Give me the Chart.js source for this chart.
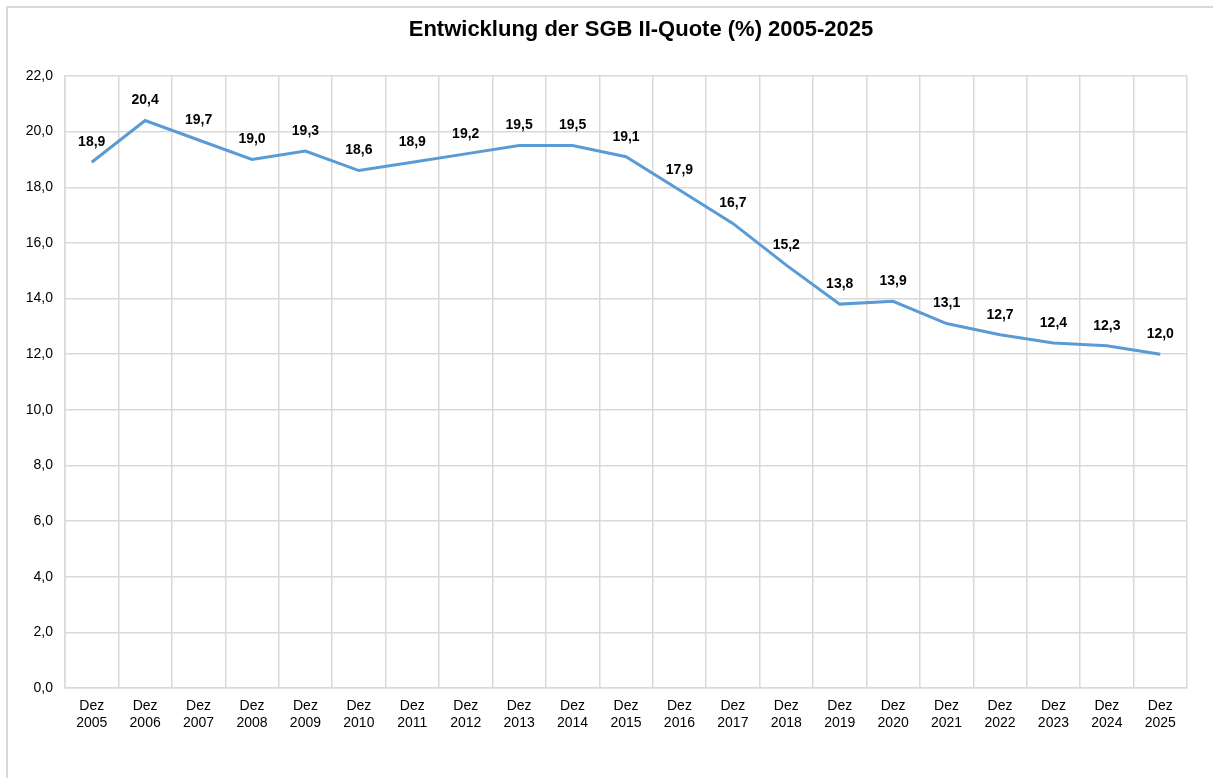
<!DOCTYPE html>
<html>
<head>
<meta charset="utf-8">
<script src="https://cdn.jsdelivr.net/npm/chart.js@4"></script>
<style>
  body { margin: 0; overflow: hidden; background: #fff; }
  #frame { position: absolute; left: 6px; top: 6px; width: 1300px; height: 900px; border: 2px solid #d9d9d9; }
  #box { position: absolute; left: 8px; top: 8px; width: 1266px; height: 770px; }
</style>
</head>
<body>
<div id="frame"></div>
<div id="box"><canvas id="quote"></canvas></div>
<script>
const years = ["2005", "2006", "2007", "2008", "2009", "2010", "2011", "2012", "2013", "2014",
  "2015", "2016", "2017", "2018", "2019", "2020", "2021", "2022", "2023", "2024", "2025"];
const quote = [18.9, 20.4, 19.7, 19.0, 19.3, 18.6, 18.9, 19.2, 19.5, 19.5,
  19.1, 17.9, 16.7, 15.2, 13.8, 13.9, 13.1, 12.7, 12.4, 12.3, 12.0];
const yTicks = [0, 2, 4, 6, 8, 10, 12, 14, 16, 18, 20, 22];

const fmt = v => v.toFixed(1).replace(".", ",");
const gridColor = "#d9d9d9";
const font = "'Liberation Sans', Arial, sans-serif";

// data labels above each point
const valueLabels = {
  id: "valueLabels",
  afterDatasetsDraw(chart) {
    const ctx = chart.ctx;
    const meta = chart.getDatasetMeta(0);
    ctx.save();
    ctx.font = "bold 14px " + font;
    ctx.fillStyle = "#000";
    ctx.textAlign = "center";
    ctx.textBaseline = "middle";
    meta.data.forEach((pt, i) => {
      ctx.fillText(fmt(quote[i]), pt.x, pt.y - 20);
    });
    ctx.restore();
  }
};

new Chart(document.getElementById("quote").getContext("2d"), {
  type: "line",
  data: {
    labels: years.map(y => ["Dez", y]),
    datasets: [{
      data: quote,
      borderColor: "#5b9bd5",
      borderWidth: 3,
      pointRadius: 0,
      tension: 0,
      fill: false
    }]
  },
  options: {
    responsive: true,
    maintainAspectRatio: false,
    animation: false,
    layout: { padding: 0 },
    plugins: {
      legend: { display: false },
      tooltip: { enabled: false },
      title: {
        display: true,
        text: "Entwicklung der SGB II-Quote (%) 2005-2025",
        color: "#000",
        font: { family: font, size: 22, weight: "bold", lineHeight: 1.2 },
        padding: { top: 8.5, bottom: 33.1 }
      }
    },
    scales: {
      x: {
        offset: true,
        grid: { color: gridColor, lineWidth: 1.5, offset: true, drawTicks: false },
        border: { color: gridColor, width: 1.5 },
        ticks: { color: "#000", font: { family: font, size: 14, lineHeight: 1.2 }, padding: 10, maxRotation: 0, autoSkip: false },
        afterFit(scale) { scale.height = 90; }
      },
      y: {
        min: 0,
        max: 22,
        afterBuildTicks(scale) { scale.ticks = yTicks.map(v => ({ value: v })); },
        grid: { color: gridColor, lineWidth: 1.5, drawTicks: false },
        border: { color: gridColor, width: 1.5 },
        ticks: { color: "#000", font: { family: font, size: 14 }, padding: 12, callback: v => fmt(v) },
        afterFit(scale) { scale.width = 57; }
      },
      // empty right-hand axis, only reserves the blank margin so the title stays centred on the frame
      spacer: {
        position: "right",
        min: 0,
        max: 22,
        grid: { display: false },
        border: { display: false },
        ticks: { display: false },
        afterFit(scale) { scale.width = 87; }
      }
    }
  },
  plugins: [valueLabels]
});
</script>
</body>
</html>
